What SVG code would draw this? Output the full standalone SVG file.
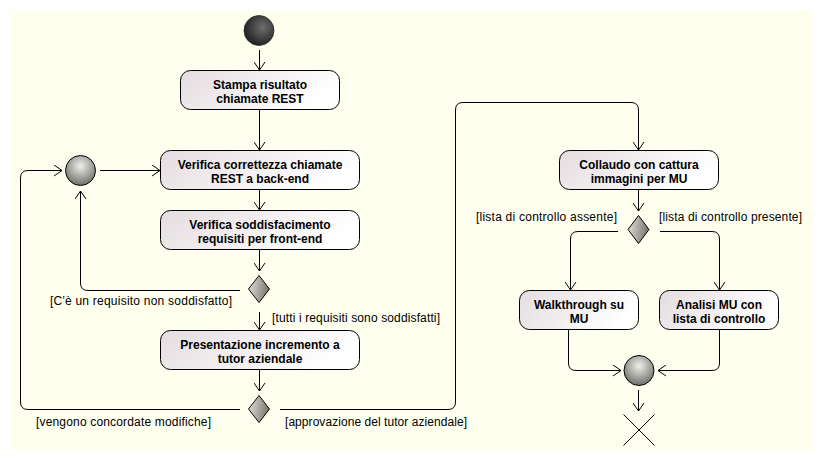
<svg xmlns="http://www.w3.org/2000/svg" width="823" height="461" viewBox="0 0 823 461">
<defs>
<linearGradient id="boxg" x1="0" y1="0" x2="1" y2="0.3">
<stop offset="0" stop-color="#E4DCE0"/>
<stop offset="1" stop-color="#FFFFFF"/>
</linearGradient>
<radialGradient id="startg" cx="0.62" cy="0.4" r="0.65">
<stop offset="0" stop-color="#6E6E6E"/>
<stop offset="1" stop-color="#1E1E1E"/>
</radialGradient>
<radialGradient id="mergeg" cx="0.5" cy="0.35" r="0.65">
<stop offset="0" stop-color="#F0F0EA"/>
<stop offset="1" stop-color="#6E6E68"/>
</radialGradient>
<linearGradient id="diag" x1="0" y1="0" x2="1" y2="0.2">
<stop offset="0" stop-color="#E6E6DE"/>
<stop offset="1" stop-color="#7A7A72"/>
</linearGradient>
<marker id="arr" viewBox="0 0 10 12" refX="9" refY="6" markerWidth="10" markerHeight="12" markerUnits="userSpaceOnUse" orient="auto">
<polyline points="1,0.5 9,6 1,11.5" fill="none" stroke="#000" stroke-width="1"/>
</marker>
<style>
.box{fill:url(#boxg);stroke:#000;stroke-width:1}
.bt{font-family:"Liberation Sans",Arial,sans-serif;font-size:12px;font-weight:bold;text-anchor:middle;fill:#000}
.gt{font-family:"Liberation Sans",Arial,sans-serif;font-size:12px;fill:#000}
.c{fill:none;stroke:#000;stroke-width:1}
.ca{fill:none;stroke:#000;stroke-width:1;marker-end:url(#arr)}
.dia{fill:url(#diag);stroke:#000;stroke-width:1}
.mrg{fill:url(#mergeg);stroke:#000;stroke-width:1}
</style>
</defs>
<rect x="0" y="0" width="823" height="461" fill="#FFFFFF"/>
<rect x="10" y="10" width="803" height="440" fill="#FFFFF0"/>

<g id="connectors">
<path class="ca" d="M259.5,50 V70"/>
<path class="ca" d="M259.5,110 V150"/>
<path class="ca" d="M259.5,190 V210"/>
<path class="ca" d="M259.5,250 V271"/>
<path class="ca" d="M259.5,312 V330"/>
<path class="ca" d="M259.5,370 V391"/>
<path class="ca" d="M100,170.5 H160"/>
<path class="ca" d="M240,290.5 H88 Q80.5,290.5 80.5,283 V191"/>
<path class="ca" d="M240,409.5 H28 Q20.5,409.5 20.5,402 V178 Q20.5,170.5 28,170.5 H62"/>
<path class="ca" d="M280,409.5 H448 Q455.5,409.5 455.5,402 V110 Q455.5,102.5 463,102.5 H631 Q638.5,102.5 638.5,110 V150"/>
<path class="ca" d="M638.5,190 V211"/>
<path class="ca" d="M618,231.5 H578 Q570.5,231.5 570.5,239 V290"/>
<path class="ca" d="M660,231.5 H712 Q719.5,231.5 719.5,239 V290"/>
<path class="ca" d="M568.5,330 V363 Q568.5,370.5 576,370.5 H621"/>
<path class="ca" d="M719.5,330 V363 Q719.5,370.5 712,370.5 H658"/>
<path class="ca" d="M638.5,390 V411"/>
</g>

<g id="start"><circle cx="259" cy="30.5" r="15" fill="url(#startg)" stroke="#2a2a2a" stroke-width="0.8"/></g>

<g id="n1"><rect class="box" x="180.5" y="70.5" width="159" height="39" rx="10" ry="10"/>
<text class="bt" x="260" y="89">Stampa risultato</text><text class="bt" x="260" y="103">chiamate REST</text></g>

<g id="merge1"><circle class="mrg" cx="80.5" cy="170.5" r="15"/></g>

<g id="n2"><rect class="box" x="160.5" y="150.5" width="199" height="39" rx="10" ry="10"/>
<text class="bt" x="260" y="169">Verifica correttezza chiamate</text><text class="bt" x="260" y="183">REST a back-end</text></g>

<g id="n3"><rect class="box" x="160.5" y="210.5" width="199" height="39" rx="10" ry="10"/>
<text class="bt" x="260" y="229">Verifica soddisfacimento</text><text class="bt" x="260" y="243">requisiti per front-end</text></g>

<g id="d1"><polygon class="dia" points="259,275.5 269.5,289 259,302.5 248.5,289"/></g>
<text class="gt" x="50" y="305" textLength="182" lengthAdjust="spacing">[C'è un requisito non soddisfatto]</text>
<text class="gt" x="272" y="322" textLength="168" lengthAdjust="spacing">[tutti i requisiti sono soddisfatti]</text>

<g id="n4"><rect class="box" x="160.5" y="330.5" width="199" height="39" rx="10" ry="10"/>
<text class="bt" x="260" y="349">Presentazione incremento a</text><text class="bt" x="260" y="363">tutor aziendale</text></g>

<g id="d2"><polygon class="dia" points="259,395.5 269.5,409 259,422.5 248.5,409"/></g>
<text class="gt" x="36" y="426" textLength="175" lengthAdjust="spacing">[vengono concordate modifiche]</text>
<text class="gt" x="285" y="426" textLength="182" lengthAdjust="spacing">[approvazione del tutor aziendale]</text>

<g id="n5"><rect class="box" x="559.5" y="150.5" width="159" height="39" rx="10" ry="10"/>
<text class="bt" x="639" y="169">Collaudo con cattura</text><text class="bt" x="639" y="183">immagini per MU</text></g>

<g id="d3"><polygon class="dia" points="638.5,215.5 649,229.5 638.5,243.5 628,229.5"/></g>
<text class="gt" x="476" y="221" textLength="141" lengthAdjust="spacing">[lista di controllo assente]</text>
<text class="gt" x="659" y="221" textLength="143" lengthAdjust="spacing">[lista di controllo presente]</text>

<g id="n6"><rect class="box" x="519.5" y="290.5" width="119" height="39" rx="10" ry="10"/>
<text class="bt" x="579" y="309">Walkthrough su</text><text class="bt" x="579" y="323">MU</text></g>

<g id="n7"><rect class="box" x="659.5" y="290.5" width="119" height="39" rx="10" ry="10"/>
<text class="bt" x="719" y="309">Analisi MU con</text><text class="bt" x="719" y="323">lista di controllo</text></g>

<g id="merge2"><circle class="mrg" cx="639" cy="370.5" r="15"/></g>

<g id="final"><path class="c" d="M623.5,414.5 L654.5,445.5 M654.5,414.5 L623.5,445.5"/></g>
</svg>
